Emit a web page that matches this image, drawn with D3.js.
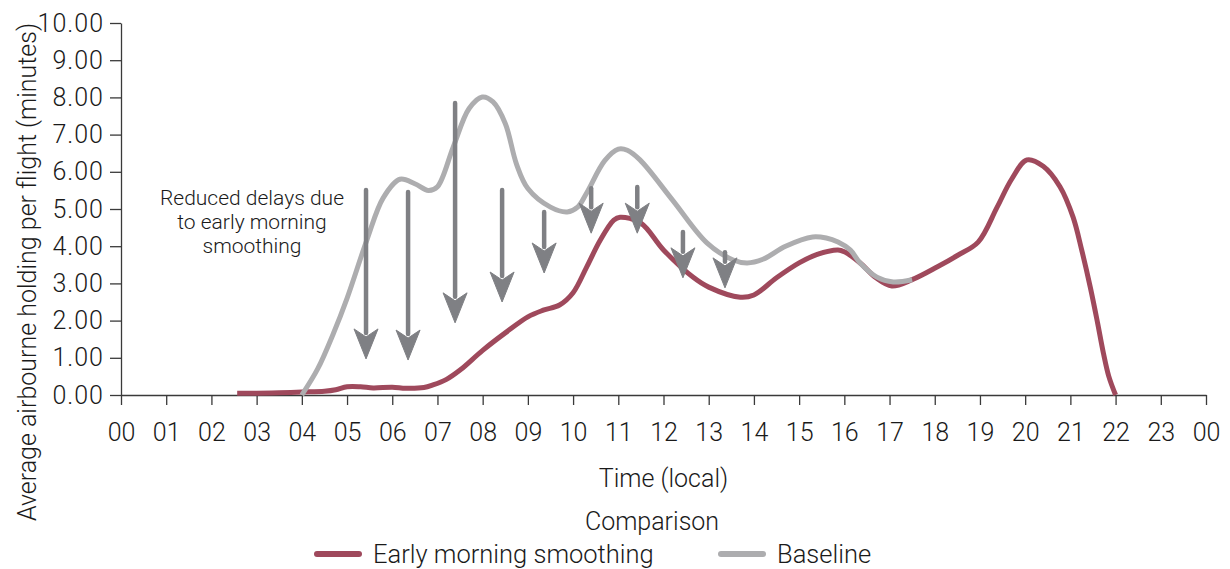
<!DOCTYPE html>
<html lang="en">
  <head>
    <meta charset="UTF-8" />
    <title>Airborne holding per flight</title>
    <script src="https://d3js.org/d3.v7.min.js"></script>
    <style>
      body {
        margin: 0;
        padding: 0;
        background: #fff;
      }
      svg {
        display: block;
        font-family: Roboto, "Liberation Sans", sans-serif;
        font-weight: 300;
        fill: #1a1a1a;
      }
      .axis path,
      .axis line {
        stroke: #3a3a3a;
        stroke-width: 1.3;
      }
      .axis text {
        font-family: Roboto, "Liberation Sans", sans-serif;
        font-weight: 300;
        font-size: 25px;
        fill: #1a1a1a;
      }
      .y.axis text {
        letter-spacing: 1px;
      }
      .title {
        font-size: 25px;
      }
      .legend text {
        font-size: 25.5px;
      }
      .note {
        font-size: 21px;
      }
      .arrow {
        fill: #7f8084;
        stroke: #7f8084;
      }
    </style>
  </head>
  <body>
    <script>
      // Chart values
      const xTickLabels = ["00", "01", "02", "03", "04", "05", "06", "07", "08", "09", "10", "11",
                           "12", "13", "14", "15", "16", "17", "18", "19", "20", "21", "22", "23", "00"];
      const yTickValues = [0, 1, 2, 3, 4, 5, 6, 7, 8, 9, 10];

      // Early morning smoothing (hour of day, minutes)
      const smoothingHours = [2.57, 3.0, 3.5, 4.0, 4.5, 4.75, 5.0, 5.3, 5.58, 6.0, 6.3, 6.7, 6.9,
                              7.2, 7.5, 8.0, 8.5, 9.0, 9.34, 9.7, 10.0, 10.3, 10.6, 10.9, 11.04, 11.5,
                              12.0, 12.65, 13.0, 13.7, 14.0, 14.5, 15.0, 15.4, 15.86, 16.0, 16.35,
                              16.7, 17.05, 17.5, 18.05, 18.5, 18.96, 19.38, 19.7, 20.04, 20.4,
                              20.77, 21.06, 21.25, 21.44, 21.6, 21.73, 21.85, 22.0];
      const smoothingValues = [0.05, 0.05, 0.06, 0.08, 0.1, 0.14, 0.22, 0.22, 0.19, 0.21, 0.18, 0.2, 0.27,
                               0.42, 0.67, 1.2, 1.67, 2.1, 2.28, 2.42, 2.75, 3.44, 4.16, 4.7, 4.78, 4.62,
                               3.9, 3.17, 2.9, 2.63, 2.69, 3.15, 3.55, 3.78, 3.9, 3.85, 3.55,
                               3.15, 2.93, 3.1, 3.44, 3.75, 4.11, 5.05, 5.8, 6.32, 6.15,
                               5.6, 4.78, 3.9, 2.9, 1.95, 1.13, 0.5, 0.0];

      // Baseline (hour of day, minutes)
      const baselineHours = [4.0, 4.35, 4.7, 5.0, 5.44, 5.8, 6.17, 6.5, 6.8, 7.0, 7.35, 7.7, 7.99,
                             8.23, 8.5, 8.75, 9.0, 9.5, 9.87, 10.1, 10.3, 10.7, 11.0,
                             11.2, 11.48, 12.2, 12.96, 13.54, 13.85, 14.2, 14.7, 15.3, 15.6, 15.86,
                             16.13, 16.35, 16.72, 17.08, 17.5];
      const baselineValues = [0.0, 0.7, 1.66, 2.6, 4.17, 5.3, 5.8, 5.68, 5.5, 5.6, 6.67, 7.7, 8.01,
                              7.88, 7.3, 6.2, 5.55, 5.05, 4.92, 5.05, 5.43, 6.3, 6.61,
                              6.58, 6.32, 5.24, 4.09, 3.63, 3.55, 3.65, 4.0, 4.25, 4.22, 4.11,
                              3.9, 3.55, 3.17, 3.04, 3.1];

      // Annotation arrows (hour, start value, tip value)
      const arrowHours = [5.42, 6.35, 7.39, 8.43, 9.36, 10.4, 11.42, 12.43, 13.36];
      const arrowFrom = [5.51, 5.46, 7.85, 5.51, 4.92, 5.56, 5.59, 4.38, 3.84];
      const arrowTo = [0.97, 0.94, 1.94, 2.5, 3.28, 4.35, 4.35, 3.15, 2.88];

      const noteLines = ["Reduced delays due", "to early morning", "smoothing"];

      const width = 1230,
            height = 569;
      const margin = { top: 23, right: 24, bottom: 174, left: 121 };

      const svg = d3.select("body")
                    .append("svg")
                    .attr("width", width)
                    .attr("height", height);

      const xScale = d3.scaleLinear()
                       .domain([0, 24])
                       .range([margin.left, width - margin.right]);
      const yScale = d3.scaleLinear()
                       .domain([0, 10])
                       .range([height - margin.bottom, margin.top]);

      // Axes
      const xAxis = d3.axisBottom(xScale)
                      .tickValues(d3.range(0, 25))
                      .tickFormat((d, i) => xTickLabels[i])
                      .tickSizeInner(10)
                      .tickSizeOuter(0)
                      .tickPadding(18);
      svg.append("g")
         .attr("class", "x axis")
         .attr("transform", `translate(0,${yScale(0)})`)
         .call(xAxis);

      const yAxis = d3.axisLeft(yScale)
                      .tickValues(yTickValues)
                      .tickFormat(d3.format(".2f"))
                      .tickSizeInner(11)
                      .tickSizeOuter(0)
                      .tickPadding(6);
      svg.append("g")
         .attr("class", "y axis")
         .attr("transform", `translate(${margin.left},0)`)
         .call(yAxis);

      // Axis titles
      svg.append("text")
         .attr("class", "title")
         .attr("x", (xScale.range()[0] + xScale.range()[1]) / 2)
         .attr("y", 487)
         .attr("text-anchor", "middle")
         .text("Time (local)");

      svg.append("text")
         .attr("class", "title")
         .attr("transform", "translate(36,272) rotate(-90)")
         .attr("text-anchor", "middle")
         .text("Average airbourne holding per flight (minutes)");

      // Lines
      const line = d3.line()
                     .x(d => xScale(d[0]))
                     .y(d => yScale(d[1]))
                     .curve(d3.curveCatmullRom.alpha(0.5));

      const smoothing = smoothingHours.map((h, i) => [h, smoothingValues[i]]);
      const baseline = baselineHours.map((h, i) => [h, baselineValues[i]]);

      svg.append("path")
         .datum(smoothing)
         .attr("fill", "none")
         .attr("stroke", "#9f495c")
         .attr("stroke-width", 5)
         .attr("stroke-linejoin", "round")
         .attr("d", line);

      svg.append("path")
         .datum(baseline)
         .attr("fill", "none")
         .attr("stroke", "#adadaf")
         .attr("stroke-width", 5)
         .attr("stroke-linejoin", "round")
         .attr("d", line);

      // Arrows
      const headLength = 30,
            headHalf = 12;
      const arrows = svg.append("g").attr("class", "arrows");
      arrowHours.forEach((h, i) => {
        const x = xScale(h),
              y0 = yScale(arrowFrom[i]),
              y1 = yScale(arrowTo[i]);
        arrows.append("line")
              .attr("class", "arrow")
              .attr("x1", x)
              .attr("x2", x)
              .attr("y1", y0)
              .attr("y2", y1 - headLength + 4)
              .attr("stroke-width", 4.5)
              .attr("stroke-linecap", "round");
        arrows.append("path")
              .attr("class", "arrow")
              .attr("stroke", "none")
              .attr("d", `M${x - headHalf},${y1 - headLength} L${x},${y1 - headLength + 8} L${x + headHalf},${y1 - headLength} L${x},${y1} Z`);
      });

      // Annotation
      const note = svg.append("text")
                      .attr("class", "note")
                      .attr("text-anchor", "middle");
      noteLines.forEach((t, i) => {
        note.append("tspan")
            .attr("x", 252)
            .attr("y", 205 + i * 24)
            .text(t);
      });

      // Legend
      svg.append("text")
         .attr("class", "title")
         .attr("x", 652)
         .attr("y", 530)
         .attr("text-anchor", "middle")
         .text("Comparison");

      const legendItems = [
        { label: "Early morning smoothing", color: "#9f495c", x: 317 },
        { label: "Baseline", color: "#adadaf", x: 721 }
      ];
      const legend = svg.append("g").attr("class", "legend");
      legendItems.forEach(d => {
        legend.append("line")
              .attr("x1", d.x)
              .attr("x2", d.x + 42)
              .attr("y1", 554)
              .attr("y2", 554)
              .attr("stroke", d.color)
              .attr("stroke-width", 6)
              .attr("stroke-linecap", "round");
        legend.append("text")
              .attr("x", d.x + 56)
              .attr("y", 563)
              .text(d.label);
      });
    </script>
  </body>
</html>
